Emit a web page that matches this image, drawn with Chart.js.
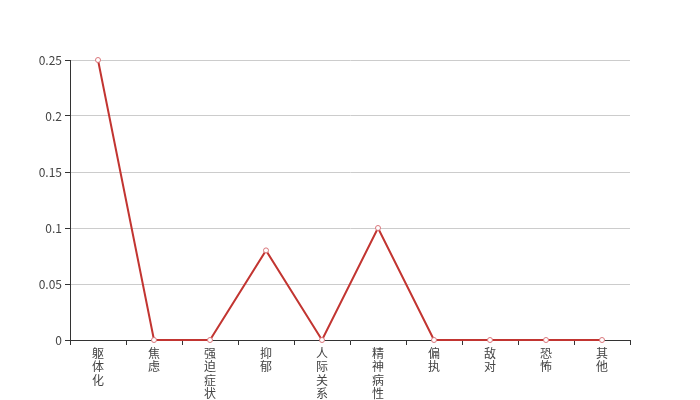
<!DOCTYPE html>
<html><head><meta charset="utf-8">
<script src="https://cdn.jsdelivr.net/npm/chart.js@4/dist/chart.umd.min.js"></script>
<style>html,body{margin:0;padding:0;background:#fff}#wrap{width:700px;height:400px}</style>
</head><body><div id="wrap"><canvas id="c" width="700" height="400"></canvas></div>
<script>
const categories = ['躯体化','焦虑','强迫症状','抑郁','人际关系','精神病性','偏执','敌对','恐怖','其他'];
const values = [0.25, 0, 0, 0.08, 0, 0.1, 0, 0, 0, 0];
const yTicks = [0, 0.05, 0.1, 0.15, 0.2, 0.25];

const FONT = "'Noto Sans CJK SC', 'Noto Sans', sans-serif";
new Chart(document.getElementById('c'), {
  type: 'line',
  data: {
    labels: categories.map(s => s.split('')),
    datasets: [{
      data: values,
      clip: false,
      borderColor: '#c23531',
      borderWidth: 2,
      tension: 0,
      pointRadius: 2.5,
      pointBorderWidth: 1,
      pointBackgroundColor: '#fff',
      pointBorderColor: '#d9757a'
    }]
  },
  options: {
    responsive: false,
    animation: false,
    layout: { padding: { top: 60, right: 70, left: 0, bottom: 0 } },
    plugins: { legend: { display: false }, tooltip: { enabled: false } },
    scales: {
      x: {
        offset: true,
        grid: { offset: true, drawOnChartArea: false, tickColor: '#333', tickLength: 5 },
        border: { color: '#333', width: 1 },
        ticks: { autoSkip: false, maxRotation: 0, minRotation: 0, color: '#444', padding: 2,
                 font: { family: FONT, size: 12, lineHeight: 1.1 } },
        afterFit: s => { s.height = 60; }
      },
      y: {
        min: 0, max: 0.25,
        afterBuildTicks: s => { s.ticks = yTicks.map(v => ({ value: v })); },
        grid: { color: '#ccc', tickColor: '#333', tickLength: 5 },
        border: { color: '#333', width: 1 },
        ticks: { color: '#444', padding: 3, font: { family: FONT, size: 12 },
                 callback: v => String(v) },
        afterFit: s => { s.width = 70; }
      }
    }
  }
});
</script></body></html>
